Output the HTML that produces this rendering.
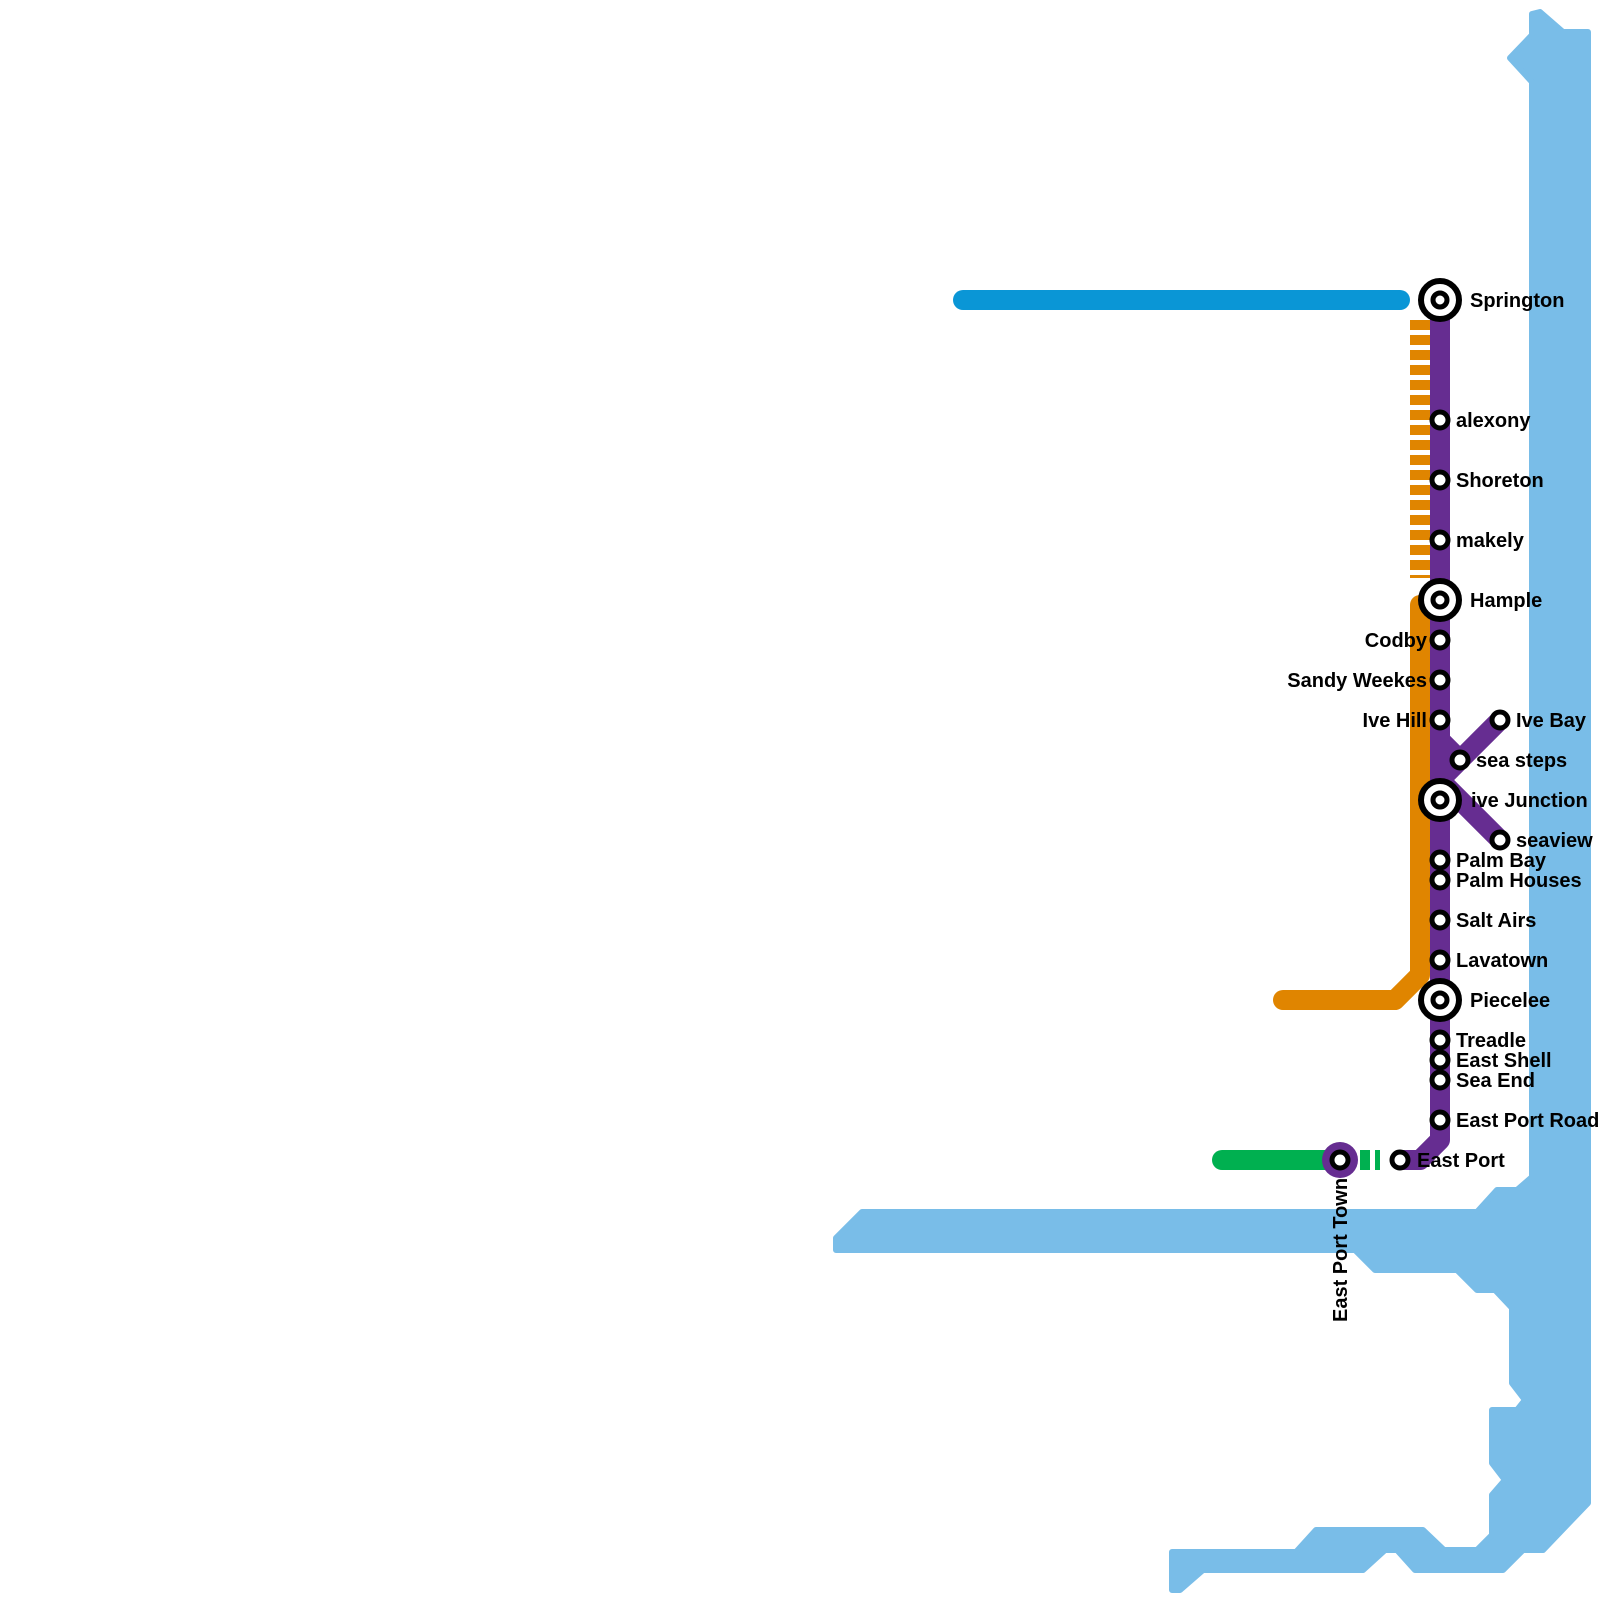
<!DOCTYPE html>
<html><head><meta charset="utf-8"><style>
html,body{margin:0;padding:0;background:#fff;}
svg{display:block;}
text{font-family:"Liberation Sans",sans-serif;font-weight:bold;font-size:20px;fill:#000;}
</style></head><body>
<svg width="1600" height="1600" viewBox="0 0 1600 1600">
<path fill="#79bde8" stroke="#79bde8" stroke-width="6" stroke-linejoin="round" d="
M1540,12 L1563,32 L1588,32 L1588,1503 L1543,1550 L1523,1550 L1503,1570 L1415,1570 L1397,1550 L1385,1550 L1363,1570 L1203,1570 L1180,1590 L1172,1590 L1172,1552 L1296,1552 L1316,1530 L1423,1530 L1444,1550 L1477,1550 L1492,1535 L1492,1495 L1505,1480 L1492,1463 L1492,1410 L1517,1410 L1525,1400 L1512,1383 L1512,1308 L1495,1290 L1477,1290 L1457,1270 L1375,1270 L1355,1250 L836,1250 L836,1238 L862,1212 L1477,1212 L1497,1190 L1517,1190 L1532,1177 L1532,82 L1510,58 L1532,35 L1532,14 Z"/>
<line x1="963" y1="300" x2="1400" y2="300" stroke="#0a96d6" stroke-width="20" stroke-linecap="round"/>
<line x1="1420" y1="320" x2="1420" y2="578" stroke="#e08500" stroke-width="20" stroke-dasharray="10 5"/>
<path d="M1283,1000 H1395 L1420,975 V605" fill="none" stroke="#e08500" stroke-width="20" stroke-linecap="round" stroke-linejoin="round"/>
<line x1="1222" y1="1160" x2="1340" y2="1160" stroke="#00b050" stroke-width="20" stroke-linecap="round"/>
<rect x="1360" y="1150" width="10" height="20" fill="#00b050"/>
<rect x="1375" y="1150" width="5" height="20" fill="#00b050"/>
<g stroke="#662d91" stroke-width="20" fill="none" stroke-linejoin="round">
<path d="M1440,300 V1140 L1420,1160 H1400"/>
<path d="M1440,780 L1500,720"/>
<path d="M1440,740 L1460,760"/>
<path d="M1440,780 L1500,840"/>
</g>
<circle cx="1340" cy="1160" r="18" fill="#662d91"/>
<g fill="#fff" stroke="#000">
<g stroke-width="6">
<circle cx="1440" cy="300" r="19"/>
<circle cx="1440" cy="600" r="19"/>
<circle cx="1440" cy="800" r="19"/>
<circle cx="1440" cy="1000" r="19"/>
</g>
<g stroke-width="5">
<circle cx="1440" cy="300" r="7"/>
<circle cx="1440" cy="600" r="7"/>
<circle cx="1440" cy="800" r="7"/>
<circle cx="1440" cy="1000" r="7"/>
<circle cx="1440" cy="420" r="8"/>
<circle cx="1440" cy="480" r="8"/>
<circle cx="1440" cy="540" r="8"/>
<circle cx="1440" cy="640" r="8"/>
<circle cx="1440" cy="680" r="8"/>
<circle cx="1440" cy="720" r="8"/>
<circle cx="1500" cy="720" r="8"/>
<circle cx="1460" cy="760" r="8"/>
<circle cx="1500" cy="840" r="8"/>
<circle cx="1440" cy="860" r="8"/>
<circle cx="1440" cy="880" r="8"/>
<circle cx="1440" cy="920" r="8"/>
<circle cx="1440" cy="960" r="8"/>
<circle cx="1440" cy="1040" r="8"/>
<circle cx="1440" cy="1060" r="8"/>
<circle cx="1440" cy="1080" r="8"/>
<circle cx="1440" cy="1120" r="8"/>
<circle cx="1400" cy="1160" r="8"/>
<circle cx="1340" cy="1160" r="8"/>
</g>
</g>
<text x="1470" y="307">Springton</text>
<text x="1456" y="427">alexony</text>
<text x="1456" y="487">Shoreton</text>
<text x="1456" y="547">makely</text>
<text x="1470" y="607">Hample</text>
<text x="1427" y="647" text-anchor="end">Codby</text>
<text x="1427" y="687" text-anchor="end">Sandy Weekes</text>
<text x="1427" y="727" text-anchor="end">Ive Hill</text>
<text x="1516" y="727">Ive Bay</text>
<text x="1476" y="767">sea steps</text>
<text x="1471" y="807">ive Junction</text>
<text x="1516" y="847">seaview</text>
<text x="1456" y="867">Palm Bay</text>
<text x="1456" y="887">Palm Houses</text>
<text x="1456" y="927">Salt Airs</text>
<text x="1456" y="967">Lavatown</text>
<text x="1470" y="1007">Piecelee</text>
<text x="1456" y="1047">Treadle</text>
<text x="1456" y="1067">East Shell</text>
<text x="1456" y="1087">Sea End</text>
<text x="1456" y="1127">East Port Road</text>
<text x="1417" y="1167">East Port</text>
<text transform="translate(1347,1322) rotate(-90)">East Port Town</text>
</svg>
</body></html>
